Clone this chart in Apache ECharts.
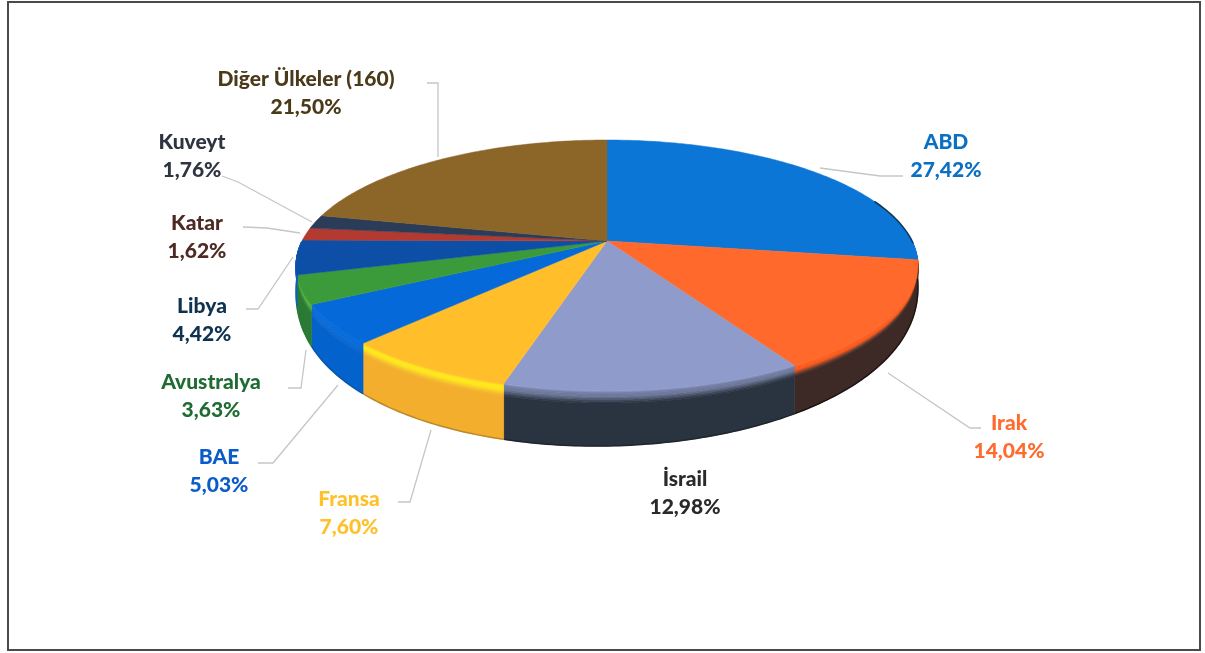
<!DOCTYPE html>
<html><head><meta charset="utf-8">
<style>html,body{margin:0;padding:0;background:#fff}#c{width:1205px;height:653px}</style>
<script src="https://cdn.jsdelivr.net/npm/echarts@6/dist/echarts.min.js"></script>
</head><body><div id="c"></div>
<script>
const categories = ['ABD','Irak','İsrail','Fransa','BAE','Avustralya','Libya','Katar','Kuveyt','Diğer Ülkeler (160)'];
const shares = [27.42,14.04,12.98,7.60,5.03,3.63,4.42,1.62,1.76,21.50];
const topColors = ['#0B76D6','#FF6A2C','#8F9BCB','#FFBE2A','#0569DA','#3B9A3A','#0D4FA6','#B23A30','#2B3C58','#8C6529'];
const rimColors = ['#0B76D6','#FF5A1C','#6F7A9E','#FFE81A','#0569DA','#4FB040','#0A66D0','#B23A30','#2B3C58','#8C6529'];
const wallColors = ['#0A5FAE','#3D2A26','#2A3340','#F2AE2C','#0462CC','#2A7A35','#0A5EC0','#8E2A24','#22304A','#6E4F20'];
const edgeColors = ['#123A5C','#1E1512','#20262E','#B98A2C','#0A55A8','#2A7A35','#0A5EC0','#8E2A24','#22304A','#6E4F20'];
const labelColors = ['#0B70C4','#FF6B2E','#2A2A2A','#FFC02A','#0B5CC8','#1F6B32','#0E3350','#4E2A25','#2E3440','#4A3A1A'];
const labelCenters = [[946,156],[1009,437],[685,493],[349,513],[219,471],[211,396],[202,320],[197,237],[192,156],[306,93]];
const leaders = [
 [[820,168],[880,176],[903,176]],
 [[888,373],[970,428],[981,428]],
 null,
 [[431,430],[410,502],[398,502]],
 [[338,385],[273,463],[258,463]],
 [[306,350],[301,388],[288,388]],
 [[293,257],[258,309],[246,309]],
 [[300,233],[267,228],[243,227]],
 [[312,222],[238,182],[222,176]],
 [[438,157],[438,83],[427,83]]
];
const APEX = [607,241], RX = 305, RY = 120.7, PERSP = -0.195;

function hex(c){return [1,3,5].map(i=>parseInt(c.substr(i,2),16));}
function mix(a,b,t){const A=hex(a),B=hex(b);return 'rgb('+A.map((v,i)=>Math.round(v+(B[i]-v)*t)).join(',')+')';}
function project(a){
  const X=Math.sin(a),Y=-Math.cos(a),w=1+PERSP*Y;
  return {x:APEX[0]+RX*X/w,y:APEX[1]+RY*Y/w,X,Y};
}
function wallH(p){return p.Y<=0?0:Math.sqrt(p.Y)*(55-6*p.X);}
const total = shares.reduce((s,v)=>s+v,0);
function range(i){
  let s=0;for(let k=0;k<i;k++)s+=shares[k];
  return [s/total*Math.PI*2,(s+shares[i])/total*Math.PI*2];
}
function rim(i){
  const [a,b]=range(i),n=Math.max(4,Math.ceil((b-a)/0.015)),pts=[];
  for(let k=0;k<=n;k++)pts.push(project(a+(b-a)*k/n));
  return pts;
}
function sliceItem(params){
  const i=params.dataIndex,pts=rim(i),children=[];
  const front=pts.filter(p=>p.Y>0);
  if(front.length>1){
    const bands=[[0,.05,topColors[i],rimColors[i]],[.05,.1,rimColors[i],rimColors[i]],[.1,.22,rimColors[i],wallColors[i]],[.22,1,wallColors[i],wallColors[i]]];
    const layers=[];
    bands.forEach(b=>{
      const steps=b[3]===b[2]?1:4;
      for(let s=0;s<steps;s++){
        layers.push([b[0]+(b[1]-b[0])*s/steps,b[0]+(b[1]-b[0])*(s+1)/steps,mix(b[2],b[3],(s+.5)/steps)]);
      }
    });
    layers.forEach(l=>{
      const up=front.map(p=>[p.x,p.y+wallH(p)*l[0]]);
      const lo=front.map(p=>[p.x,p.y+wallH(p)*l[1]]).reverse();
      children.push({type:'polygon',shape:{points:up.concat(lo)},style:{fill:l[2],stroke:l[2],lineWidth:.6}});
    });
    children.push({type:'polyline',shape:{points:front.map(p=>[p.x,p.y+wallH(p)])},style:{fill:'none',stroke:edgeColors[i],lineWidth:1.5}});
  }
  const poly=[[APEX[0],APEX[1]]].concat(pts.map(p=>[p.x,p.y]));
  children.push({type:'polygon',shape:{points:poly},style:{fill:topColors[i],stroke:topColors[i],lineWidth:.5}});
  const shaded=pts.filter(p=>p.Y>-0.35&&p.X>0&&p.Y<=0.02);
  if(shaded.length>1)children.push({type:'polyline',shape:{points:shaded.map(p=>[p.x,p.y])},style:{fill:'none',stroke:edgeColors[i],lineWidth:1.6}});
  return {type:'group',children};
}
function labelItem(params){
  const i=params.dataIndex,c=labelCenters[i],children=[];
  if(leaders[i])children.push({type:'polyline',shape:{points:leaders[i]},style:{fill:'none',stroke:'#C4C6C9',lineWidth:1.3}});
  children.push({type:'text',style:{
    x:c[0],y:c[1],text:categories[i]+'\n'+shares[i].toFixed(2).replace('.',',')+'%',
    fill:labelColors[i],font:'900 21px Lato',align:'center',verticalAlign:'middle',lineHeight:28
  }});
  return {type:'group',children};
}
const chart=echarts.init(document.getElementById('c'),null,{renderer:'canvas'});
chart.setOption({
  animation:false,
  backgroundColor:'#fff',
  graphic:[{type:'rect',shape:{x:8,y:2,width:1192,height:648},style:{fill:'none',stroke:'#4A4A4A',lineWidth:2},silent:true}],
  series:[
    {type:'custom',coordinateSystem:'none',silent:true,renderItem:sliceItem,data:shares,z:2},
    {type:'custom',coordinateSystem:'none',silent:true,renderItem:labelItem,data:shares,z:3}
  ]
});
</script></body></html>
